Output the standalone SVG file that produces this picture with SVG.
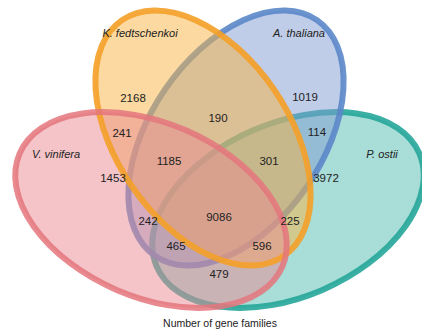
<svg xmlns="http://www.w3.org/2000/svg" width="422" height="333" viewBox="0 0 422 333">
<style>
.lbl{font-family:"Liberation Sans",Arial,sans-serif;font-size:11px;font-style:italic;fill:#222;text-anchor:middle}
.num{font-family:"Liberation Sans",Arial,sans-serif;font-size:11.5px;fill:#222;text-anchor:middle}
.cap{font-family:"Liberation Sans",Arial,sans-serif;font-size:10.5px;fill:#222;text-anchor:middle}
.f{stroke:none;fill-opacity:0.5}
.s{fill:none;stroke-width:6}
</style>
<rect width="422" height="333" fill="#fff"/>
<g id="P_ostii">
<ellipse class="f" cx="288" cy="210" rx="143" ry="87" transform="rotate(-23.3 288 210)" fill="#51bbb1"/>
<ellipse class="s" cx="288" cy="210" rx="143" ry="87" transform="rotate(-23.3 288 210)" stroke="#26a69a" stroke-opacity="0.9"/>
</g>
<g id="A_thaliana">
<ellipse class="f" cx="236" cy="138" rx="143" ry="86" transform="rotate(-55.5 236 138)" fill="#819bd1"/>
<ellipse class="s" cx="236" cy="138" rx="143" ry="86" transform="rotate(-55.5 236 138)" stroke="#5b87c9" stroke-opacity="0.9"/>
</g>
<g id="K_fedtschenkoi_fill">
<ellipse class="f" cx="203" cy="138" rx="143" ry="86" transform="rotate(55.5 203 138)" fill="#f7b341"/>
</g>
<g id="V_vinifera">
<ellipse class="f" cx="151" cy="210" rx="143" ry="87" transform="rotate(23.3 151 210)" fill="#e98991"/>
</g>
<g id="K_fedtschenkoi">
<ellipse class="s" cx="203" cy="138" rx="143" ry="86" transform="rotate(55.5 203 138)" stroke="#f4a028" stroke-opacity="0.9"/>
</g>
<g id="V_vinifera_outline">
<ellipse class="s" cx="151" cy="210" rx="143" ry="87" transform="rotate(23.3 151 210)" stroke="#e4757c" stroke-opacity="0.85"/>
</g>
<g id="labels">
<text class="lbl" x="140" y="37">K. fedtschenkoi</text>
<text class="lbl" x="299" y="37">A. thaliana</text>
<text class="lbl" x="56" y="158">V. vinifera</text>
<text class="lbl" x="382" y="158">P. ostii</text>
</g>
<g id="counts">
<text class="num" x="133" y="102">2168</text>
<text class="num" x="218" y="122">190</text>
<text class="num" x="305" y="101">1019</text>
<text class="num" x="122" y="137">241</text>
<text class="num" x="317" y="136">114</text>
<text class="num" x="169" y="165">1185</text>
<text class="num" x="269" y="165">301</text>
<text class="num" x="113" y="182">1453</text>
<text class="num" x="326" y="182">3972</text>
<text class="num" x="148" y="225">242</text>
<text class="num" x="219" y="221">9086</text>
<text class="num" x="290" y="225">225</text>
<text class="num" x="176" y="250">465</text>
<text class="num" x="262" y="250">596</text>
<text class="num" x="219" y="278">479</text>
</g>
<text class="cap" x="220" y="327">Number of gene families</text>
</svg>
